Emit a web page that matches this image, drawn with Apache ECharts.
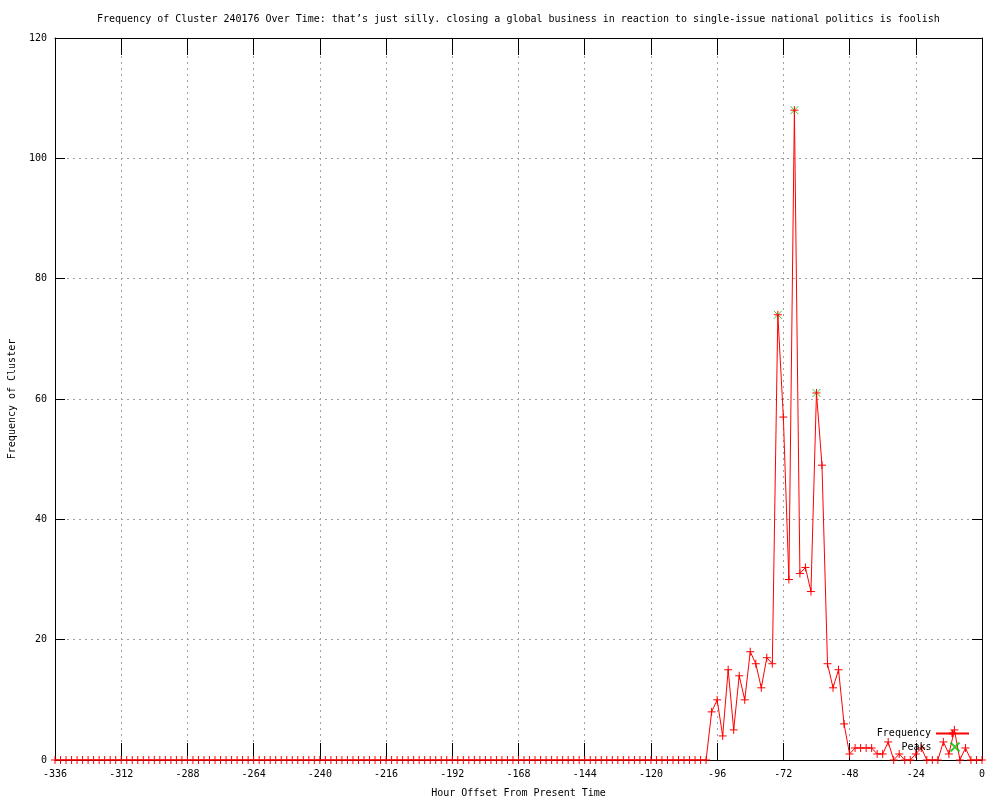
<!DOCTYPE html>
<html><head><meta charset="utf-8">
<script src="https://cdn.jsdelivr.net/npm/echarts@6/dist/echarts.min.js"></script>
<style>html,body{margin:0;padding:0;background:#fff}#c{width:1000px;height:800px}</style>
</head><body><div id="c"></div>
<script>
// Hour offsets: every 2 hours from -336 to 0
const startHour = -336, hourStep = 2;
// Frequency values, one per hour offset (-336 .. 0)
const freqZeros = [
  0,0,0,0,0,0,0,0,0,0, 0,0,0,0,0,0,0,0,0,0, 0,0,0,0,0,0,0,0,0,0,
  0,0,0,0,0,0,0,0,0,0, 0,0,0,0,0,0,0,0,0,0, 0,0,0,0,0,0,0,0,0,0,
  0,0,0,0,0,0,0,0,0,0, 0,0,0,0,0,0,0,0,0,0, 0,0,0,0,0,0,0,0,0,0,
  0,0,0,0,0,0,0,0,0,0, 0,0,0,0,0,0,0,0,0,0, 0,0,0,0,0,0,0,0,0
]; // -336 .. -100
const freqActive = [
  8,10,4,15,5,14,10,18,16,12,   // -98 .. -80
  17,16,74,57,30,108,31,32,28,61, // -78 .. -60
  49,16,12,15,6,1,2,2,2,2,        // -58 .. -40
  1,1,3,0,1,0,0,1,2,0,            // -38 .. -20
  0,0,3,1,5,0,2,0,0,0             // -18 .. 0
];
const frequency = freqZeros.concat(freqActive);
const hours = frequency.map((_, i) => startHour + i * hourStep);

const peakHours = [-74, -68, -60];
const peakValues = [74, 108, 61];

const xTicks = { min: -336, max: 0, interval: 24 };
const yTicks = { min: 0, max: 120, interval: 20 };

const titleText = "Frequency of Cluster 240176 Over Time: that\u2019s just silly. closing a global business in reaction to single-issue national politics is foolish";

const FONT = 'DejaVu Sans Mono';
const txt = { fontFamily: FONT, fontSize: 10, color: '#000' };
const plusPath = 'path://M0,4L8,4M4,0L4,8';
const crossPath = 'path://M0,0L8,8M8,0L0,8';
const gridLine = { show: true, lineStyle: { color: '#a0a0a0', type: [2, 4], width: 1 } };

const chart = echarts.init(document.getElementById('c'), null, { renderer: 'canvas' });
chart.setOption({
  animation: false,
  backgroundColor: '#fff',
  title: { text: titleText, left: 97, top: 14, padding: 0, textStyle: Object.assign({ fontWeight: 'normal' }, txt) },
  legend: [
    { data: ['Frequency'], right: 30, top: 728.5, padding: 0, orient: 'vertical', align: 'right',
      itemWidth: 33, itemHeight: 9, textStyle: txt, selectedMode: false },
    { data: ['Peaks'], right: 39.5, top: 741.5, padding: 0, orient: 'vertical', align: 'right',
      itemWidth: 9, itemHeight: 9, textStyle: Object.assign({ padding: [0, 14, 0, 0] }, txt), selectedMode: false }
  ],
  grid: { left: 55, right: 18, top: 38, bottom: 40, containLabel: false, outerBoundsMode: 'none' },
  xAxis: [
    { type: 'value', position: 'bottom', min: xTicks.min, max: xTicks.max, interval: xTicks.interval,
      name: 'Hour Offset From Present Time', nameLocation: 'middle', nameGap: 28, nameTextStyle: txt,
      axisLine: { show: true, onZero: false, lineStyle: { color: '#000', width: 1 } },
      axisTick: { show: true, inside: true, length: 17, lineStyle: { color: '#000' } },
      axisLabel: Object.assign({ margin: 9 }, txt), splitLine: gridLine },
    { type: 'value', position: 'top', min: xTicks.min, max: xTicks.max, interval: xTicks.interval,
      axisLine: { show: true, onZero: false, lineStyle: { color: '#000', width: 1 } },
      axisTick: { show: true, inside: true, length: 17, lineStyle: { color: '#000' } },
      axisLabel: { show: false }, splitLine: { show: false } }
  ],
  yAxis: [
    { type: 'value', position: 'left', min: yTicks.min, max: yTicks.max, interval: yTicks.interval,
      name: 'Frequency of Cluster', nameLocation: 'middle', nameGap: 38, nameRotate: 90, nameTextStyle: txt,
      axisLine: { show: true, onZero: false, lineStyle: { color: '#000', width: 1 } },
      axisTick: { show: true, inside: true, length: 10, lineStyle: { color: '#000' } },
      axisLabel: Object.assign({ margin: 8 }, txt), splitLine: gridLine },
    { type: 'value', position: 'right', min: yTicks.min, max: yTicks.max, interval: yTicks.interval,
      axisLine: { show: true, onZero: false, lineStyle: { color: '#000', width: 1 } },
      axisTick: { show: true, inside: true, length: 10, lineStyle: { color: '#000' } },
      axisLabel: { show: false }, splitLine: { show: false } }
  ],
  series: [
    { name: 'Peaks', type: 'scatter', z: 1, silent: true,
      symbol: crossPath, symbolSize: 8,
      itemStyle: { color: '#00c000', borderColor: '#00c000', borderWidth: 1 },
      data: peakHours.map((h, i) => [h, peakValues[i]]) },
    { name: 'Frequency', type: 'line', z: 3, silent: true,
      symbol: plusPath, symbolSize: 8, showSymbol: true, showAllSymbol: true,
      lineStyle: { color: '#ff0000', width: 1 },
      itemStyle: { color: '#ff0000', borderColor: '#ff0000', borderWidth: 1 },
      data: hours.map((h, i) => [h, frequency[i]]) }
  ]
});
</script></body></html>
